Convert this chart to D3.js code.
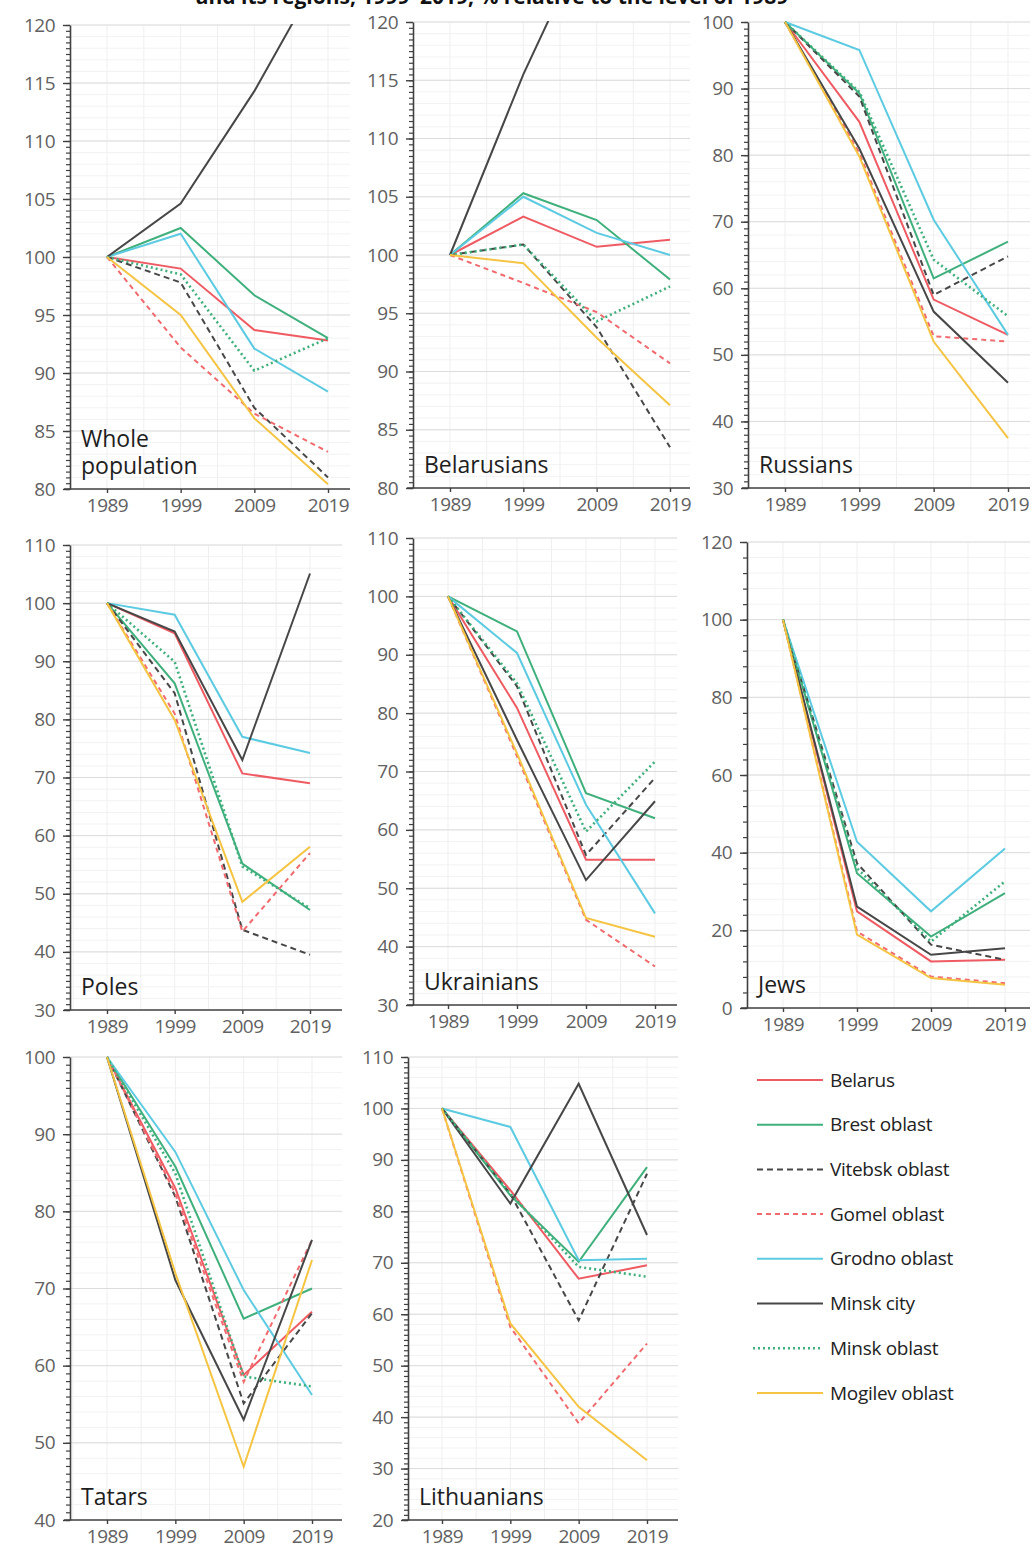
<!DOCTYPE html>
<html>
<head>
<meta charset="utf-8">
<script src="https://cdn.jsdelivr.net/npm/d3@7"></script>
<style>
  body { margin: 0; background: #fff; }
  svg { display: block; }
</style>
</head>
<body>
<script>
// census years and regions (legend order)
const years = ['1989', '1999', '2009', '2019'];
const regions = ['Belarus', 'Brest oblast', 'Vitebsk oblast', 'Gomel oblast',
  'Grodno oblast', 'Minsk city', 'Minsk oblast', 'Mogilev oblast'];

// % of 1989 level, one row per region
const wholePopulation = [
  [100, 99.0, 93.7, 92.8],
  [100, 102.5, 96.7, 93.0],
  [100, 97.8, 87.0, 81.0],
  [100, 92.2, 86.5, 83.2],
  [100, 102.0, 92.1, 88.4],
  [100, 104.6, 114.3, 125.6],
  [100, 98.5, 90.2, 93.0],
  [100, 95.0, 86.1, 80.4]
];
const belarusians = [
  [100, 103.3, 100.7, 101.3],
  [100, 105.3, 103.0, 97.9],
  [100, 100.9, 93.8, 83.5],
  [100, 97.6, 95.1, 90.7],
  [100, 105.0, 101.9, 100.0],
  [100, 115.5, 129.0, 141.0],
  [100, 100.9, 94.3, 97.3],
  [100, 99.3, 92.9, 87.1]
];
const russians = [
  [100, 85.0, 58.3, 53.0],
  [100, 89.3, 61.5, 67.0],
  [100, 88.8, 59.0, 64.8],
  [100, 80.3, 52.8, 52.0],
  [100, 95.8, 70.3, 53.0],
  [100, 81.0, 56.5, 45.8],
  [100, 89.5, 64.3, 55.8],
  [100, 79.8, 52.0, 37.5]
];
const poles = [
  [100, 94.8, 70.7, 69.0],
  [100, 86.2, 55.2, 47.2],
  [100, 84.5, 43.8, 39.5],
  [100, 81.0, 43.5, 57.0],
  [100, 98.0, 77.0, 74.2],
  [100, 95.1, 73.0, 105.1],
  [100, 89.9, 54.7, 47.5],
  [100, 79.9, 48.6, 58.1]
];
const ukrainians = [
  [100, 80.9, 54.9, 54.9],
  [100, 94.0, 66.3, 62.0],
  [100, 84.6, 55.7, 68.9],
  [100, 72.6, 44.6, 36.6],
  [100, 90.3, 64.3, 45.7],
  [100, 75.4, 51.4, 64.9],
  [100, 85.1, 59.7, 71.7],
  [100, 73.1, 44.9, 41.7]
];
const jews = [
  [100, 24.9, 12.0, 12.4],
  [100, 34.7, 18.4, 29.6],
  [100, 37.3, 16.3, 12.4],
  [100, 19.7, 8.1, 6.4],
  [100, 42.8, 24.9, 41.1],
  [100, 26.1, 13.7, 15.4],
  [100, 36.0, 17.1, 32.6],
  [100, 18.9, 7.7, 6.0]
];
const tatars = [
  [100, 83.0, 58.8, 67.0],
  [100, 85.8, 66.1, 70.0],
  [100, 81.9, 55.1, 66.8],
  [100, 82.3, 57.9, 76.3],
  [100, 87.7, 69.8, 56.2],
  [100, 71.1, 53.0, 76.3],
  [100, 84.9, 58.6, 57.3],
  [100, 72.0, 46.9, 73.7]
];
const lithuanians = [
  [100, 84.1, 66.9, 69.5],
  [100, 83.1, 70.2, 88.6],
  [100, 83.4, 58.8, 87.3],
  [100, 57.5, 38.8, 54.3],
  [100, 96.4, 70.5, 70.8],
  [100, 81.5, 104.8, 75.4],
  [100, 83.4, 69.2, 67.3],
  [100, 58.2, 42.0, 31.6]
];

const panelNames = [['Whole', 'population'], ['Belarusians'], ['Russians'], ['Poles'],
  ['Ukrainians'], ['Jews'], ['Tatars'], ['Lithuanians']];
const panelData = [wholePopulation, belarusians, russians, poles, ukrainians, jews, tatars, lithuanians];
const yDomains = [[80, 120], [80, 120], [30, 100], [30, 110], [30, 110], [0, 120], [40, 100], [20, 110]];
const yMajorStep = [5, 5, 10, 10, 10, 20, 10, 10];
const yMinorStep = [0.5, 0.5, 1, 1, 1, 4, 1, 1];

const titleText = 'and its regions, 1999–2019, % relative to the level of 1989';

// styles
const colors = ['#ef5b63', '#3fb07c', '#474747', '#f06a6e', '#5ccbe2', '#474747', '#3fb07c', '#f5c443'];
const dashes = [null, null, '6,4', '5,4', null, null, '2,3', null];
const widths = [2, 2, 2, 2, 2, 2, 2.6, 2];

const width = 1035, height = 1551;
const font = '"Open Sans", "Noto Sans", sans-serif';

// panel frames: y axis x, first/last category x, axis end, plot top/bottom
const frames = [
  { ax: 70, x0: 107, x1: 328, xEnd: 350, top: 25, bot: 489 },
  { ax: 413, x0: 450, x1: 670, xEnd: 690, top: 22, bot: 488 },
  { ax: 748, x0: 785, x1: 1008, xEnd: 1030, top: 22, bot: 488 },
  { ax: 70, x0: 107, x1: 310, xEnd: 342, top: 545, bot: 1010 },
  { ax: 413, x0: 448, x1: 655, xEnd: 677, top: 538, bot: 1005 },
  { ax: 747, x0: 783, x1: 1005, xEnd: 1030, top: 542, bot: 1008 },
  { ax: 70, x0: 107, x1: 312, xEnd: 342, top: 1057, bot: 1520 },
  { ax: 408, x0: 442, x1: 647, xEnd: 678, top: 1057, bot: 1520 }
];

const svg = d3.select('body').append('svg')
  .attr('width', width)
  .attr('height', height)
  .attr('viewBox', [0, 0, width, height]);

// title: only its lower part shows, as in the cropped original
svg.append('text')
  .attr('x', 492)
  .attr('y', 4)
  .attr('text-anchor', 'middle')
  .attr('font-family', font)
  .attr('font-weight', 700)
  .attr('font-size', 21)
  .attr('fill', '#111')
  .text(titleText);

const defs = svg.append('defs');

frames.forEach((f, p) => {
  const x = d3.scalePoint(years, [f.x0, f.x1]);
  const y = d3.scaleLinear(yDomains[p], [f.bot, f.top]);
  const step = x.step();
  const g = svg.append('g');

  defs.append('clipPath').attr('id', `clip-${p}`)
    .append('rect')
    .attr('x', f.ax).attr('y', f.top - 1)
    .attr('width', f.xEnd - f.ax).attr('height', f.bot - f.top + 1);

  // vertical grid (categories and midpoints)
  const vx = d3.range(f.x0 - step / 2, f.xEnd, step / 2).filter((v) => v > f.ax + 2);
  g.append('g')
    .selectAll('line')
    .data(vx)
    .join('line')
    .attr('x1', (d) => d).attr('x2', (d) => d)
    .attr('y1', f.top).attr('y2', f.bot)
    .attr('stroke', '#efefef')
    .attr('stroke-width', 1);

  // horizontal grid: minor then major
  const [lo, hi] = yDomains[p];
  const minorGrid = d3.range(lo, hi + 0.001, yMajorStep[p] / 5);
  const majorVals = d3.range(lo, hi + 0.001, yMajorStep[p]);
  g.append('g')
    .selectAll('line')
    .data(minorGrid)
    .join('line')
    .attr('x1', f.ax).attr('x2', f.xEnd)
    .attr('y1', (d) => y(d)).attr('y2', (d) => y(d))
    .attr('stroke', '#f2f2f2');
  g.append('g')
    .selectAll('line')
    .data(majorVals.slice(1))
    .join('line')
    .attr('x1', f.ax).attr('x2', f.xEnd)
    .attr('y1', (d) => y(d)).attr('y2', (d) => y(d))
    .attr('stroke', '#dcdcdc');

  // lines
  const line = d3.line().x((d, i) => x(years[i])).y((d) => y(d));
  g.append('g')
    .attr('clip-path', `url(#clip-${p})`)
    .selectAll('path')
    .data(panelData[p])
    .join('path')
    .attr('d', line)
    .attr('fill', 'none')
    .attr('stroke', (d, i) => colors[i])
    .attr('stroke-width', (d, i) => widths[i])
    .attr('stroke-dasharray', (d, i) => dashes[i])
    .attr('stroke-linejoin', 'miter');

  // y axis with minor ticks
  const minorTicks = d3.range(lo, hi + 0.001, yMinorStep[p]);
  g.append('g')
    .attr('transform', `translate(${f.ax},0)`)
    .call(d3.axisLeft(y).tickValues(minorTicks).tickSize(4).tickFormat(''))
    .call((a) => a.selectAll('.domain').remove())
    .call((a) => a.selectAll('.tick line').attr('stroke', '#404040').attr('stroke-width', 1.2));
  g.append('g')
    .attr('transform', `translate(${f.ax},0)`)
    .call(d3.axisLeft(y).tickValues(majorVals).tickSize(7).tickPadding(8).tickSizeOuter(0))
    .call((a) => a.select('.domain').attr('stroke', '#404040').attr('stroke-width', 1.6))
    .call((a) => a.selectAll('.tick line').attr('stroke', '#404040').attr('stroke-width', 1.4))
    .call((a) => a.selectAll('.tick text')
      .attr('font-family', font)
      .attr('font-size', 19)
      .attr('fill', '#616161')
      .attr('letter-spacing', '-0.5px'));

  // x axis
  const xa = g.append('g').attr('transform', `translate(0,${f.bot})`);
  xa.append('line')
    .attr('x1', f.ax - 6).attr('x2', f.xEnd)
    .attr('stroke', '#404040').attr('stroke-width', 1.6);
  xa.call(d3.axisBottom(x).tickSize(4).tickPadding(6).tickSizeOuter(0))
    .call((a) => a.select('.domain').remove())
    .call((a) => a.selectAll('.tick line').attr('stroke', '#404040').attr('stroke-width', 1.4))
    .call((a) => a.selectAll('.tick text')
      .attr('font-family', font)
      .attr('font-size', 19)
      .attr('fill', '#616161')
      .attr('letter-spacing', '-0.5px'));

  // panel name
  const names = panelNames[p];
  g.append('g')
    .selectAll('text')
    .data(names)
    .join('text')
    .attr('x', f.ax + 11)
    .attr('y', (d, i) => f.bot - 15 - (names.length - 1 - i) * 27)
    .attr('font-family', font)
    .attr('font-size', 23)
    .attr('fill', '#1e1e1e')
    .text((d) => d);
});

// legend
const legend = svg.append('g')
  .selectAll('g')
  .data(regions)
  .join('g')
  .attr('transform', (d, i) => `translate(757,${1080 + i * 44.7})`);
legend.append('line')
  .attr('x1', (d, i) => (dashes[i] === '2,3' ? -4 : 0)).attr('x2', 66)
  .attr('stroke', (d, i) => colors[i])
  .attr('stroke-width', (d, i) => widths[i])
  .attr('stroke-dasharray', (d, i) => dashes[i]);
legend.append('text')
  .attr('x', 73)
  .attr('dy', '0.35em')
  .attr('font-family', font)
  .attr('font-size', 19)
  .attr('letter-spacing', '-0.3px')
  .attr('fill', '#222')
  .text((d) => d);
</script>
</body>
</html>
